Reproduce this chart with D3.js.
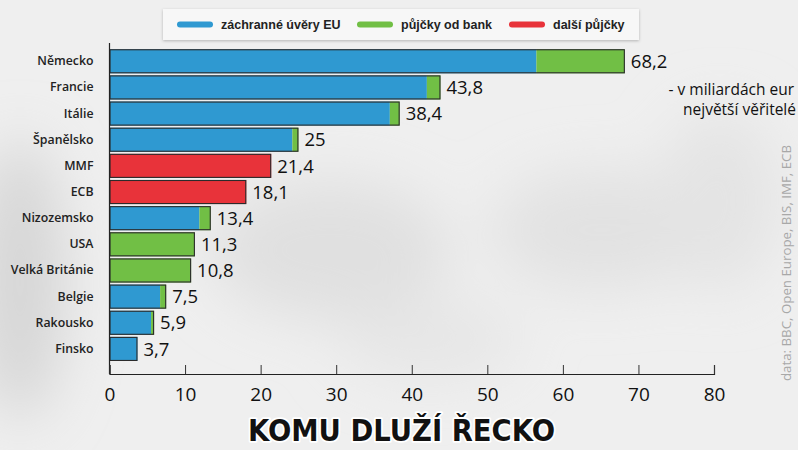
<!DOCTYPE html>
<html><head><meta charset="utf-8">
<script src="https://cdn.jsdelivr.net/npm/d3@7"></script>
<style>body{margin:0;background:#ededed;} svg{display:block}</style>
</head><body>
<svg id="c" width="798" height="450"></svg>
<script>
const categories = ["Německo","Francie","Itálie","Španělsko","MMF","ECB","Nizozemsko","USA","Velká Británie","Belgie","Rakousko","Finsko"];
const euRescue   = [56.5, 42.0, 37.1, 24.2, 0, 0, 11.9, 0, 0, 6.7, 5.5, 3.7];
const bankLoans  = [11.7, 1.8, 1.3, 0.8, 0, 0, 1.5, 11.3, 10.8, 0.8, 0.4, 0];
const otherLoans = [0, 0, 0, 0, 21.4, 18.1, 0, 0, 0, 0, 0, 0];
const xTicks = [0,10,20,30,40,50,60,70,80];
const seriesNames = ["záchranné úvěry EU","půjčky od bank","další půjčky"];
const seriesColors = ["#2f99d1","#71bf45","#e8333a"];
const subtitle = ["- v miliardách eur","největší věřitelé"];
const source = "data: BBC, Open Europe, BIS, IMF, ECB";
const title = "KOMU DLUŽÍ ŘECKO";

const keys = ["eu","bank","other"];
const rows = categories.map((c,i)=>({cat:c, eu:euRescue[i], bank:bankLoans[i], other:otherLoans[i]}));

const svg = d3.select("#c");
const defs = svg.append("defs");
const blur = defs.append("filter").attr("id","blur").attr("x","-50%").attr("y","-50%").attr("width","200%").attr("height","200%");
blur.append("feGaussianBlur").attr("stdDeviation",28);
const sh = defs.append("filter").attr("id","sh").attr("x","-10%").attr("y","-30%").attr("width","120%").attr("height","160%");
sh.append("feDropShadow").attr("dx",0).attr("dy",1).attr("stdDeviation",1.5).attr("flood-color","#000").attr("flood-opacity",0.25);

// soft blurred background
const bg = svg.append("g");
bg.append("rect").attr("width",798).attr("height",450).attr("fill","#efefef");
const bgBlobs = bg.append("g").attr("filter","url(#blur)");
bgBlobs.append("ellipse").attr("cx",20).attr("cy",280).attr("rx",45).attr("ry",140).attr("fill","#d6d6d6");
bgBlobs.append("ellipse").attr("cx",330).attr("cy",250).attr("rx",120).attr("ry",70).attr("fill","#e0e0e0");
bgBlobs.append("ellipse").attr("cx",600).attr("cy",230).attr("rx",110).attr("ry",60).attr("fill","#e2e2e2");
bgBlobs.append("ellipse").attr("cx",720).attr("cy",200).attr("rx",60).attr("ry",90).attr("fill","#e4e4e4");
bgBlobs.append("ellipse").attr("cx",430).attr("cy",340).attr("rx",90).attr("ry",40).attr("fill","#e6e6e6");

const x = d3.scaleLinear().domain([0,80]).range([109.5,714]);
const y = d3.scaleBand().domain(categories).range([48.2,362]).paddingInner(0.08).paddingOuter(0.04);
const color = d3.scaleOrdinal().domain(keys).range(seriesColors);

const stack = d3.stack().keys(keys)(rows);

// bars
const gBars = svg.append("g");
stack.forEach(layer=>{
  gBars.selectAll(null).data(layer.filter(d=>d[1]-d[0]>0)).join("rect")
    .attr("x",d=>x(d[0])).attr("y",d=>y(d.data.cat))
    .attr("width",d=>x(d[1])-x(d[0])).attr("height",y.bandwidth())
    .attr("fill",color(layer.key));
});
const totalOf = d=>keys.reduce((s,k)=>s+d[k],0);
gBars.selectAll(null).data(rows).join("rect")
  .attr("x",x(0)+0.5).attr("y",d=>y(d.cat)+0.5)
  .attr("width",d=>x(totalOf(d))-x(0)-1).attr("height",y.bandwidth()-1)
  .attr("fill","none").attr("stroke","#2b2b2b").attr("stroke-width",1.1);

// value labels
svg.append("g").selectAll("text").data(rows).join("text")
  .attr("x",d=>x(totalOf(d))+6).attr("y",d=>y(d.cat)+y.bandwidth()/2)
  .attr("dy","0.36em")
  .attr("font-family","Open Sans").attr("font-size",18.5).attr("font-weight",500).attr("fill","#111")
  .text(d=>String(Math.round(totalOf(d)*10)/10).replace(".",","));

// y axis
const yAxis = svg.append("g").attr("transform",`translate(${x(0)},0)`)
  .call(d3.axisLeft(y).tickSize(0).tickPadding(16));
yAxis.select(".domain").remove();
yAxis.selectAll("text").attr("font-family","Open Sans").attr("font-size",12.3).attr("font-weight",600).attr("fill","#222");
svg.append("line").attr("x1",x(0)).attr("x2",x(0)).attr("y1",43).attr("y2",374)
  .attr("stroke","#222").attr("stroke-width",1.2);

// x axis
const xAxis = svg.append("g").attr("transform","translate(0,374)")
  .call(d3.axisBottom(x).tickValues(xTicks).tickSize(-9).tickSizeOuter(-9).tickPadding(14).tickFormat(d3.format("d")));
xAxis.select(".domain").attr("stroke","#222").attr("stroke-width",1.2);
xAxis.selectAll(".tick line").attr("stroke","#333");
xAxis.selectAll("text").attr("font-family","Open Sans").attr("font-size",19).attr("fill","#111");

// legend
const lg = svg.append("g");
lg.append("rect").attr("x",163).attr("y",9).attr("width",476).attr("height",31)
  .attr("fill","#f7f7f7").attr("filter","url(#sh)");
const legX = [177,357,509];
seriesNames.forEach((n,i)=>{
  lg.append("line").attr("x1",legX[i]+3).attr("x2",legX[i]+33).attr("y1",24.5).attr("y2",24.5)
    .attr("stroke",seriesColors[i]).attr("stroke-width",6).attr("stroke-linecap","round");
  lg.append("text").attr("x",legX[i]+44).attr("y",24.5).attr("dy","0.35em")
    .attr("font-family","Liberation Sans, Arial").attr("font-weight","bold").attr("font-size",12.5).attr("fill","#222")
    .text(n);
});

// subtitle
svg.append("g").selectAll("text").data(subtitle).join("text")
  .attr("x",(d,i)=>i===0?794:796).attr("y",(d,i)=>95+i*20)
  .attr("text-anchor","end").attr("font-family","Open Sans").attr("font-size",15.5).attr("fill","#111")
  .text(d=>d);

// source
svg.append("text").attr("transform","translate(791,381) rotate(-90)")
  .attr("font-family","Open Sans").attr("font-size",12.4).attr("fill","#a8a8a8")
  .attr("textLength",236).attr("lengthAdjust","spacingAndGlyphs")
  .text(source);

// title
svg.append("text").attr("x",401.5).attr("y",441)
  .attr("text-anchor","middle")
  .attr("font-family","DejaVu Sans").attr("font-stretch","condensed").attr("font-weight","bold")
  .attr("font-size",31).attr("fill","#111")
  .attr("stroke","#fff").attr("stroke-width",3.5).attr("paint-order","stroke").attr("stroke-linejoin","round")
  .attr("textLength",307).attr("lengthAdjust","spacingAndGlyphs")
  .text(title);
</script>
</body></html>
